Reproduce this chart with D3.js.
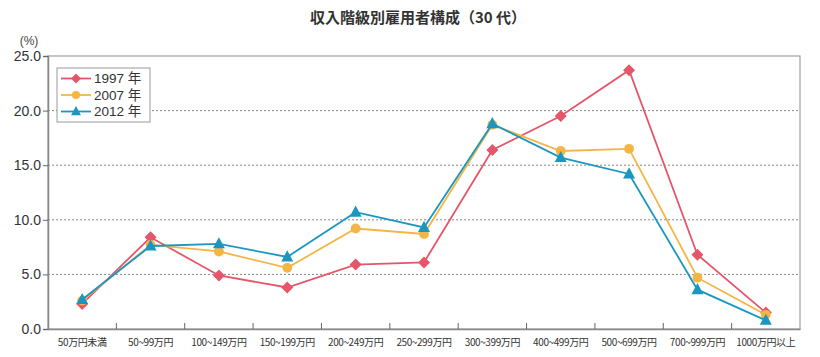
<!DOCTYPE html>
<html><head><meta charset="utf-8">
<script src="https://cdn.jsdelivr.net/npm/d3@7"></script>
<style>body{margin:0;background:#fff;}svg{display:block;}</style>
</head><body>
<svg id="c" width="820" height="357"></svg>
<script>
const categories = ["50万円未満","50~99万円","100~149万円","150~199万円","200~249万円","250~299万円","300~399万円","400~499万円","500~699万円","700~999万円","1000万円以上"];
const s1997 = [2.3, 8.4, 4.9, 3.8, 5.9, 6.1, 16.4, 19.5, 23.7, 6.8, 1.5];
const s2007 = [2.6, 7.7, 7.1, 5.6, 9.2, 8.7, 18.7, 16.3, 16.5, 4.7, 1.3];
const s2012 = [2.7, 7.6, 7.8, 6.6, 10.7, 9.3, 18.8, 15.7, 14.2, 3.6, 0.8];
const seriesNames = ["1997 年","2007 年","2012 年"];
const yTicks = [0, 5, 10, 15, 20, 25];
const title = "収入階級別雇用者構成（30 代）";
const unit = "(%)";

const colors = ["#e5566b", "#f4b547", "#1b97bf"];
const series = [s1997, s2007, s2012];
const svg = d3.select("#c");
const L = 48, R = 800, T = 56, B = 329;
const x = d3.scaleBand().domain(categories).range([L, R]);
const y = d3.scaleLinear().domain([0, 25]).range([B, T]);
const font = "'Liberation Sans','Noto Sans CJK JP',sans-serif";
const cjk = "'Noto Sans CJK JP',sans-serif";

svg.append("text").attr("x", 418).attr("y", 23).attr("text-anchor", "middle")
  .attr("font-family", cjk).attr("font-weight", "bold").attr("font-size", 15).attr("fill", "#333").text(title);
svg.append("text").attr("x", 29).attr("y", 45).attr("text-anchor", "middle")
  .attr("font-family", font).attr("font-size", 12).attr("fill", "#444").text(unit);

// grid
svg.append("g").selectAll("line").data(yTicks.filter(d => d > 0 && d < 25)).join("line")
  .attr("x1", L).attr("x2", R).attr("y1", d => y(d)).attr("y2", d => y(d))
  .attr("stroke", "#888").attr("stroke-width", 1).attr("stroke-dasharray", "2,2");

// frame
svg.append("rect").attr("x", L).attr("y", T).attr("width", R - L).attr("height", B - T)
  .attr("fill", "none").attr("stroke", "#a0a0a0").attr("stroke-width", 1.2);

// y axis
const yAxis = d3.axisLeft(y).tickValues(yTicks).tickFormat(d3.format(".1f")).tickSize(5).tickPadding(2);
const gy = svg.append("g").attr("transform", `translate(${L},0)`).call(yAxis);
gy.select(".domain").attr("stroke", "#888").attr("stroke-width", 1.5);
gy.selectAll(".tick line").attr("stroke", "#666");
gy.selectAll(".tick text").attr("font-family", "'Liberation Sans','Noto Sans',sans-serif").attr("font-size", 14).attr("fill", "#333");

// x axis
const xAxis = d3.axisBottom(x).tickSize(0).tickPadding(10);
const gx = svg.append("g").attr("transform", `translate(0,${B})`).call(xAxis);
gx.select(".domain").attr("stroke", "#888").attr("stroke-width", 1.5);
gx.selectAll(".tick text").attr("font-family", cjk).attr("font-size", 10).attr("fill", "#333").attr("letter-spacing", "-0.4px");
// boundary ticks pointing up
svg.append("g").selectAll("line").data(categories.slice(1)).join("line")
  .attr("x1", d => x(d)).attr("x2", d => x(d)).attr("y1", B).attr("y2", B - 6)
  .attr("stroke", "#666").attr("stroke-width", 1);

function marker(g, i, cx, cy, size) {
  if (i === 0) g.append("path").attr("d", `M${cx},${cy - size}L${cx + size},${cy}L${cx},${cy + size}L${cx - size},${cy}Z`).attr("fill", colors[i]);
  else if (i === 1) g.append("circle").attr("cx", cx).attr("cy", cy).attr("r", size * 0.82).attr("fill", colors[i]);
  else g.append("path").attr("d", `M${cx},${cy - size * 1.1}L${cx + size},${cy + size * 0.75}L${cx - size},${cy + size * 0.75}Z`).attr("fill", colors[i]);
}

const line = d3.line().x((d, j) => x(categories[j]) + x.bandwidth() / 2).y(d => y(d));
series.forEach((s, i) => {
  const g = svg.append("g");
  g.append("path").datum(s).attr("d", line).attr("fill", "none").attr("stroke", colors[i]).attr("stroke-width", 1.8);
  s.forEach((v, j) => marker(g, i, x(categories[j]) + x.bandwidth() / 2, y(v), 6));
});

// legend
const lg = svg.append("g");
lg.append("rect").attr("x", 57).attr("y", 68).attr("width", 93).attr("height", 54)
  .attr("fill", "#fff").attr("stroke", "#999").attr("stroke-width", 1);
seriesNames.forEach((n, i) => {
  const cy = 78.5 + i * 16.5;
  lg.append("line").attr("x1", 61).attr("x2", 91).attr("y1", cy).attr("y2", cy).attr("stroke", colors[i]).attr("stroke-width", 1.8);
  marker(lg, i, 76, cy, 5);
  lg.append("text").attr("x", 94).attr("y", cy + 4.5).attr("font-family", font).attr("font-size", 13.5).attr("fill", "#333").text(n);
});
</script>
</body></html>
